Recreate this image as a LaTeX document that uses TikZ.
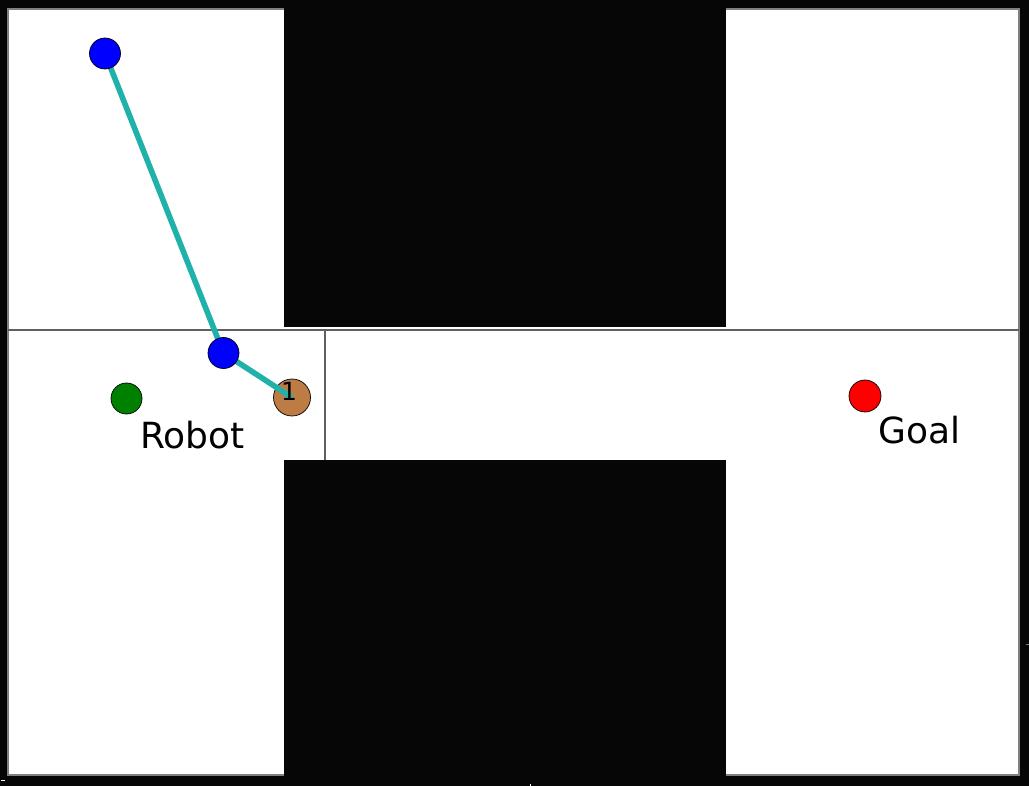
\documentclass[tikz,border=0pt]{standalone}
\usepackage{fontspec}
\setmainfont{DejaVu Sans}
\definecolor{bgblack}{RGB}{6,6,6}
\definecolor{edgegray}{RGB}{128,128,128}
\definecolor{linegray}{RGB}{96,96,96}
\definecolor{pathcyan}{RGB}{32,178,170}
\definecolor{waybrown}{RGB}{190,124,69}
\tikzset{
  pt/.style={circle, draw=black, line width=0.7pt, inner sep=0pt, minimum size=31pt},
  bluept/.style={pt, fill=blue},
  waypt/.style={pt, fill=waybrown, minimum size=37pt},
  greenpt/.style={pt, fill=green!50!black},
  redpt/.style={pt, fill=red, minimum size=32pt},
  treepath/.style={draw=pathcyan, line width=5.6pt},
  lbl/.style={inner sep=0pt, font=\fontsize{36}{40}\selectfont, anchor=base west},
  gridline/.style={draw=linegray, line width=1.3pt},
  obstacle/.style={fill=bgblack}
}
\begin{document}
\begin{tikzpicture}[x=1pt,y=-1pt]
\useasboundingbox (0,0) rectangle (1029,786);
% background frame
\fill[bgblack] (0,0) rectangle (1029,786);
\filldraw[fill=white, draw=edgegray, line width=1.6pt] (8,9) rectangle (1019,775);
% grid lines
\draw[gridline] (8,330) -- (1019,330);
\draw[gridline] (325,330) -- (325,460);
% obstacles
\fill[obstacle] (284,0) rectangle (726,327);
\fill[obstacle] (284,460) rectangle (726,786);
% tiny axis ticks
\draw[white, line width=1pt] (1,780) -- (5,780);
\draw[edgegray, line width=1pt] (1026,644) -- (1029,644);
\draw[white, line width=0.8pt] (530,784) -- (530,786);
% points
\coordinate (p1) at (105,53.5);
\coordinate (p2) at (223.5,353);
\node[waypt] (w1) at (292,397.5) {};
\draw[treepath] (p1) -- (p2) -- (w1.center);
\node[bluept] (b1) at (p1) {};
\node[bluept] (b2) at (p2) {};
\node[inner sep=0pt, font=\fontsize{25}{28}\selectfont] (n1) at (289,391) {1};
\node[greenpt] (robot) at (126.5,398.5) {};
\node[redpt] (goal) at (865,396) {};
\node[lbl] (robotlbl) at (140,449) {Robot};
\node[lbl] (goallbl) at (878,443) {Goal};
\end{tikzpicture}
\end{document}
